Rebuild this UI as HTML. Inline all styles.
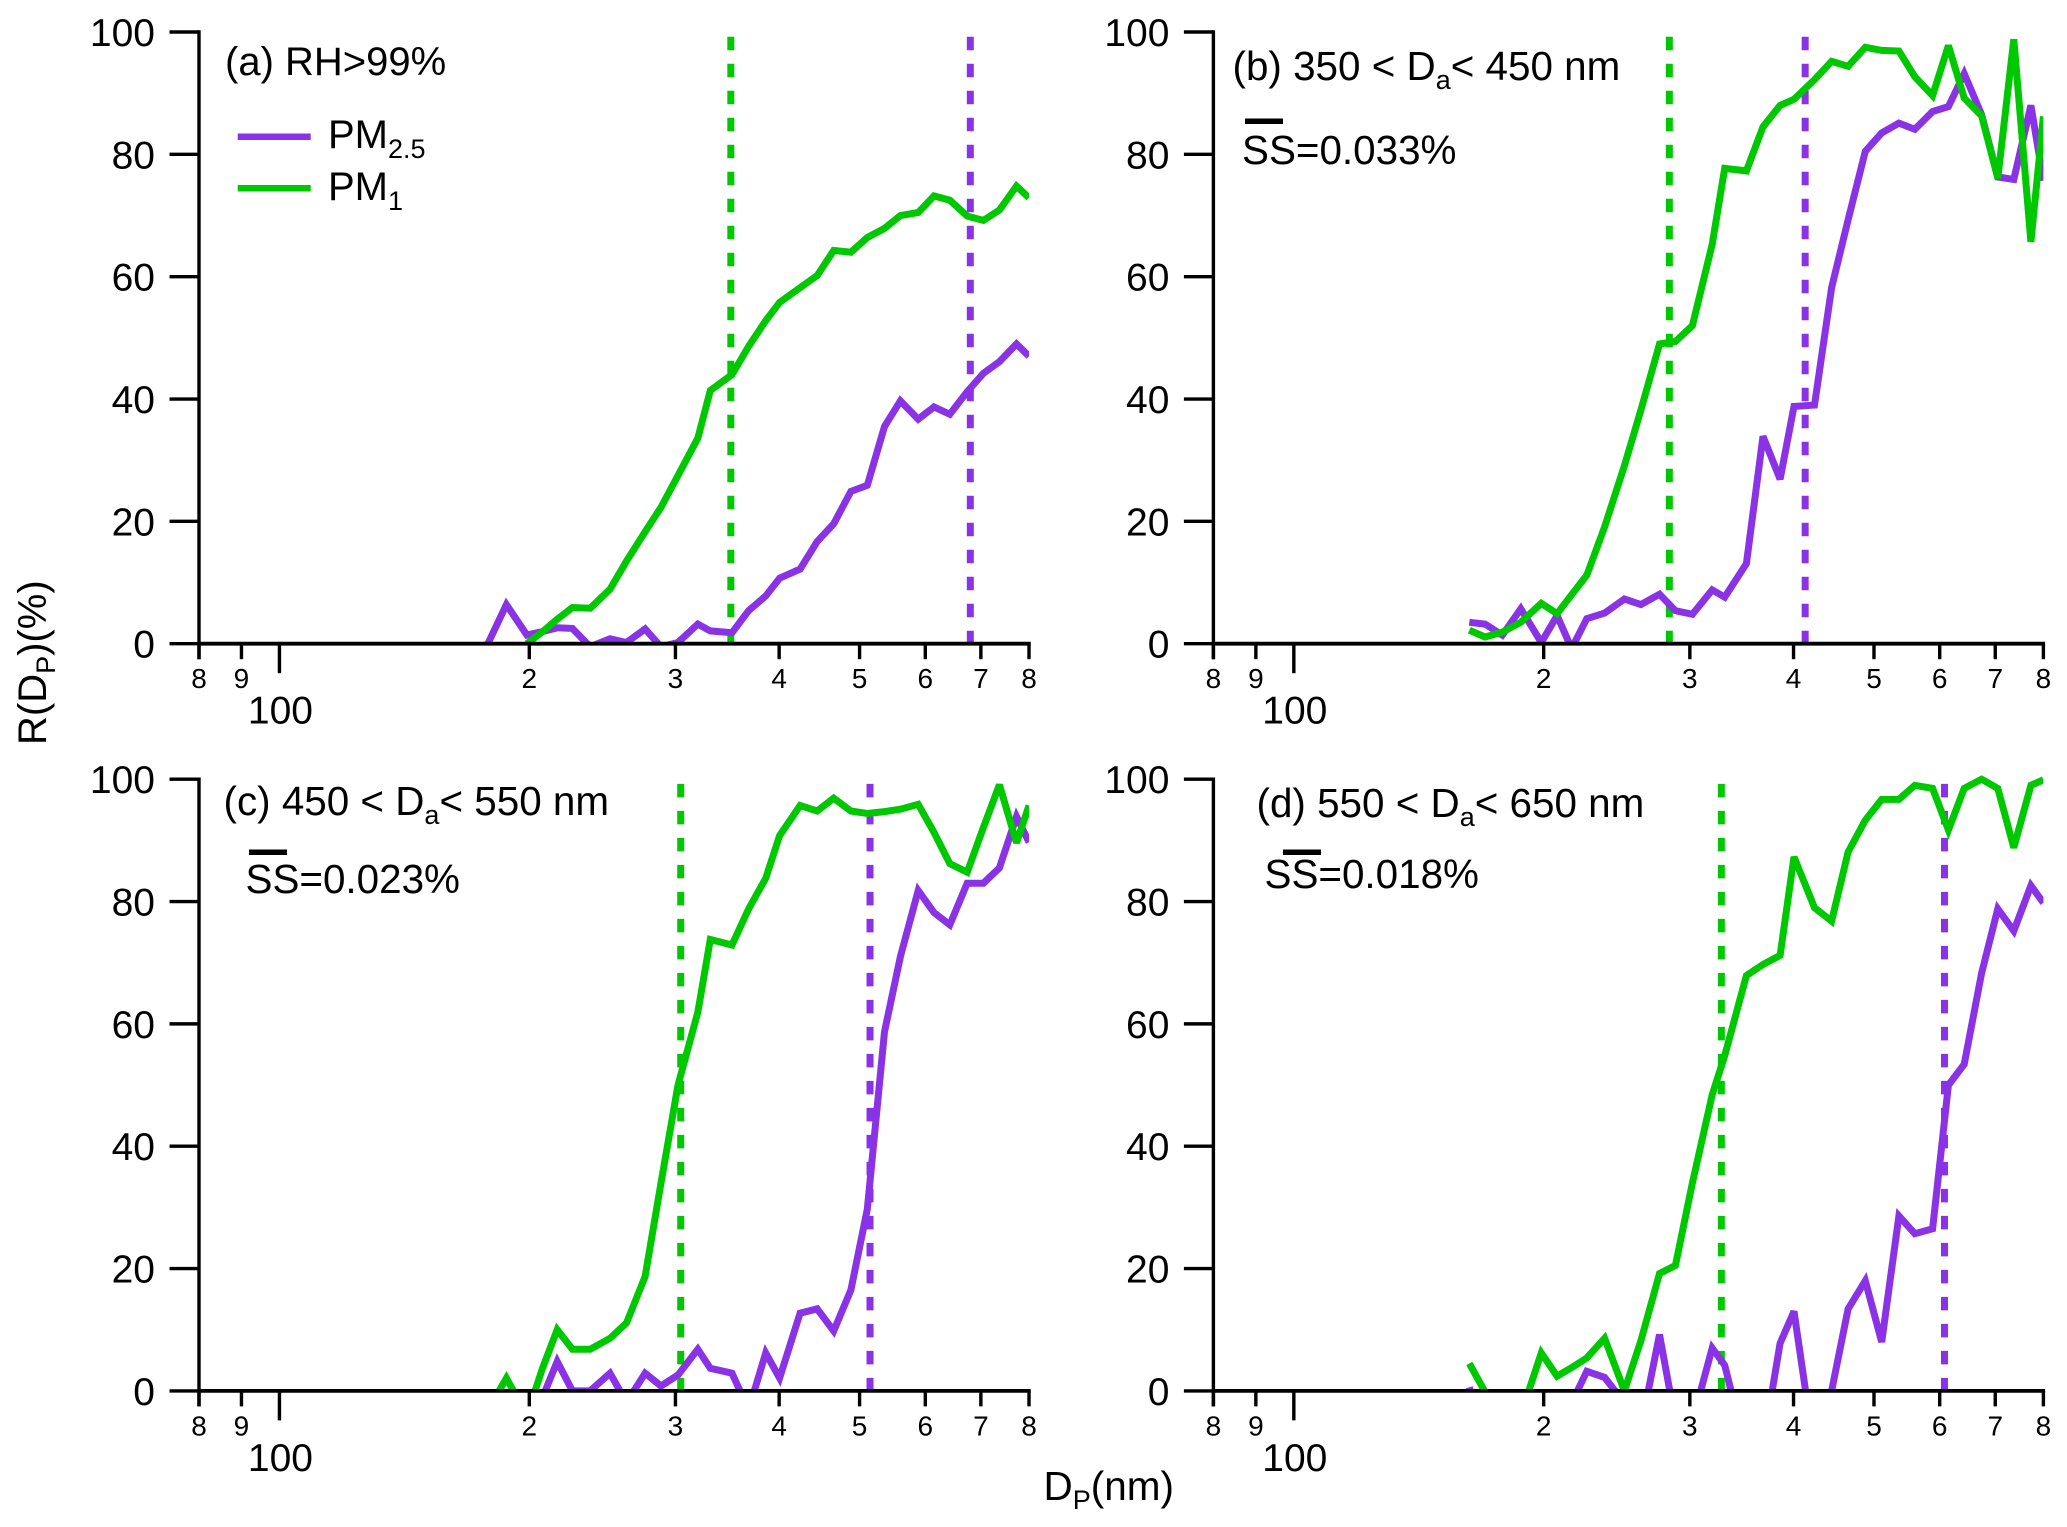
<!DOCTYPE html>
<html lang="en">
<head>
<meta charset="utf-8">
<title>R(DP) activation curves</title>
<style>
html,body{margin:0;padding:0;background:#fff;}
svg{display:block;}
text{font-family:"Liberation Sans",Arial,sans-serif;fill:#000;}
</style>
</head>
<body>
<svg id="chart" xmlns="http://www.w3.org/2000/svg" width="2067" height="1527" viewBox="0 0 2067 1527">
  <rect x="0" y="0" width="2067" height="1527" fill="#ffffff"/>
  <g id="plots"></g>

  <text transform="translate(46,745) rotate(-90)" font-size="40">R(D<tspan font-size="27" dy="9">P</tspan><tspan dy="-9">)(%)</tspan></text>
  <text x="1043.5" y="1500" font-size="40.5">D<tspan font-size="27" dy="9">P</tspan><tspan dy="-9">(nm)</tspan></text>

  <text x="225" y="75" font-size="40">(a) RH&gt;99%</text>
  <g>
    <line x1="237.7" x2="310.7" y1="136.7" y2="136.7" stroke="#8a32e6" stroke-width="6.5"/>
    <text x="328" y="148" font-size="40">PM<tspan font-size="27" dy="10">2.5</tspan></text>
    <line x1="237.7" x2="310.7" y1="188.3" y2="188.3" stroke="#00c800" stroke-width="6.5"/>
    <text x="328" y="200" font-size="40">PM<tspan font-size="27" dy="10">1</tspan></text>
  </g>

  <text x="1232.5" y="80" font-size="40.4">(b) 350 &lt; D<tspan font-size="27" dy="9">a</tspan><tspan dy="-9">&lt; 450 nm</tspan></text>
  <rect x="1245" y="118.5" width="38" height="5.5" fill="#000"/>
  <text x="1242" y="164" font-size="40.4">SS=0.033%</text>

  <text x="223.5" y="815" font-size="40.4">(c) 450 &lt; D<tspan font-size="27" dy="9">a</tspan><tspan dy="-9">&lt; 550 nm</tspan></text>
  <rect x="249" y="849.5" width="38" height="5.5" fill="#000"/>
  <text x="245.5" y="893" font-size="40.4">SS=0.023%</text>

  <text x="1256.5" y="817" font-size="40.4">(d) 550 &lt; D<tspan font-size="27" dy="9">a</tspan><tspan dy="-9">&lt; 650 nm</tspan></text>
  <rect x="1283" y="849.5" width="38" height="5.5" fill="#000"/>
  <text x="1264.5" y="888" font-size="40.4">SS=0.018%</text>
</svg>

<script>
// Shared diameter bins (nm)
const diameters = [162.7,170.0,178.3,187.7,198.7,207.6,216.1,225.4,236.8,250.2,261.9,275.8,288.2,302.1,319.2,330.5,351.0,367.5,385.4,400.5,424.0,444.5,465.4,488.1,510.8,535.8,559.9,588.3,614.7,642.2,673.9,705.0,737.0,772.7,800];

// R(Dp) values (%); null = no data
const panelAPm25 = [null,null,0,6.4,1.4,2.0,2.6,2.5,-0.5,0.8,0.2,2.4,-0.5,0.2,3.2,2.1,1.8,5.4,7.8,10.7,12.2,16.7,19.6,24.9,25.9,35.5,39.7,36.7,38.7,37.5,41.2,44.2,46.1,49,47];
const panelAPm1 = [null,null,null,null,0,2.0,4,5.9,5.8,8.9,13.5,18.3,22.3,27.5,33.6,41.4,44,48.6,52.8,55.8,58.2,60.2,64.3,64,66.4,67.9,70,70.5,73.2,72.5,69.9,69.2,70.9,74.8,72.9];
const panelBPm25 = [3.5,3.2,1.4,5.7,0.2,4.6,-0.8,4.1,5,7.3,6.4,8.1,5.4,4.8,8.8,7.6,13.1,33.9,26.9,38.8,39,58.2,69.3,80.5,83.5,85.1,84.1,87,87.8,93.2,86.5,76.3,75.9,88,75.7];
const panelBPm1 = [2.2,1.1,1.9,3.5,6.6,4.9,8,11.2,19.1,29.1,38.2,49,49.4,52,65.3,77.7,77.3,84.5,88,89,92.2,95.2,94.4,97.5,97,96.9,92.7,89.6,97.8,89.2,86.3,76.1,98.8,65.7,86.2];
const panelCPm25 = [null,null,null,null,null,-1,4.8,0,0,2.9,-1.9,2.9,0.8,2.6,6.8,3.7,2.9,-3.1,6.2,2.1,12.7,13.4,9.8,16.5,29.7,58.7,71,81.8,78.2,76.2,83,83,85.5,93.9,89.7];
const panelCPm1 = [null,null,-3.2,2.1,-4,3.8,10,6.8,6.8,8.6,11.1,18.7,34,50,61.9,73.8,72.9,78.8,83.8,90.8,95.7,94.8,96.9,94.8,94.4,94.7,95.1,95.9,91.3,86.2,84.8,92.1,99.1,89.6,95.7];
const panelDPm25 = [0.6,-8,-5,-5,-5,-5,-2,3.2,2.2,-2,-6,9.2,-5,-5,7,4.2,-10,-9,7.8,13,-10,0,13.4,18,8,28.6,25.7,26.5,50,53.4,68.3,78.8,75.2,82.6,79.8];
const panelDPm1 = [4.5,-0.2,-3,-3.9,6.2,2.4,3.8,5.4,8.6,0,8.2,19.2,20.5,34,48.4,54.8,67.9,69.7,71.2,87.3,79,76.8,88.1,93.3,96.7,96.7,99,98.5,91.7,98.5,100,98.5,88.8,99,99.9];

// Cut-off diameters marked with dashed lines (nm)
const cutPm1 = [349.8,283.4,304.4,327.4];
const cutPm25 = [679.8,413.1,514.7,608];

// Axis ticks
const yTicks = [0,20,40,60,80,100];
const xTicks = [80,90,100,200,300,400,500,600,700,800];
const xTickLabels = ["8","9","100","2","3","4","5","6","7","8"];

const panelIds = ["a","b","c","d"];
const panelPm25 = [panelAPm25,panelBPm25,panelCPm25,panelDPm25];
const panelPm1 = [panelAPm1,panelBPm1,panelCPm1,panelDPm1];

const PURPLE = "#8a32e6";
const GREEN = "#00c800";
const NS = "http://www.w3.org/2000/svg";
const plotWidth = 830;
const plotHeight = 611.7;
const frameLefts = [199,1213.4,199,1213.4];
const frameTops = [32,32,779.2,779.2];

function el(tag, attrs, parent) {
  const node = document.createElementNS(NS, tag);
  for (const k in attrs) node.setAttribute(k, attrs[k]);
  parent.appendChild(node);
  return node;
}
function xScale(d, left) { return left + plotWidth * Math.log10(d / 80); }
function yScale(v, top) { return top + plotHeight * (1 - v / 100); }

const root = document.getElementById("plots");
const defs = el("defs", {}, root);

function drawSeries(group, values, color, left, top, clipId, name) {
  let pts = [];
  values.forEach(function (v, i) {
    if (v === null) return;
    pts.push(xScale(diameters[i], left).toFixed(1) + "," + yScale(v, top).toFixed(1));
  });
  const line = el("polyline", {points: pts.join(" "), fill: "none", stroke: color, "stroke-width": 7, "stroke-linejoin": "miter", "stroke-miterlimit": 3, "clip-path": "url(#" + clipId + ")"}, group);
  
  
}

function drawCut(group, d, color, left, top, name) {
  const x = xScale(d, left);
  const line = el("line", {x1: x, x2: x, y1: top + 4.7, y2: top + plotHeight, stroke: color, "stroke-width": 7, "stroke-dasharray": "13.5 13.5"}, group);
  
  
}

panelIds.forEach(function (id, p) {
  const left = frameLefts[p], top = frameTops[p], bottom = top + plotHeight;
  const g = el("g", {}, root);
  
  

  const clipId = "clip-" + id;
  const cp = el("clipPath", {id: clipId}, defs);
  el("rect", {x: left, y: top - 12, width: plotWidth, height: plotHeight + 12}, cp);

  drawCut(g, cutPm1[p], GREEN, left, top, 'cutoff-line-pm1-' + id);
  drawCut(g, cutPm25[p], PURPLE, left, top, 'cutoff-line-pm25-' + id);
  drawSeries(g, panelPm25[p], PURPLE, left, top, clipId, 'series-pm25-' + id);
  drawSeries(g, panelPm1[p], GREEN, left, top, clipId, 'series-pm1-' + id);

  // y axis
  const yAxis = el("line", {x1: left, x2: left, y1: top - 1.7, y2: bottom + 15.5, stroke: "#000", "stroke-width": 3.4}, g);
  
  
  yTicks.forEach(function (v) {
    const y = yScale(v, top);
    const tick = el("line", {x1: left - 29.5, x2: left, y1: y, y2: y, stroke: "#000", "stroke-width": 3.4}, g);
    
    
    const label = el("text", {x: left - 44, y: y + 14, "text-anchor": "end", "font-size": 39}, g);
    label.textContent = String(v);
    
    
  });

  // x axis
  const xAxis = el("line", {x1: left - 1.7, x2: left + plotWidth + 1.7, y1: bottom, y2: bottom, stroke: "#000", "stroke-width": 3.8}, g);
  
  
  xTicks.forEach(function (d, i) {
    const x = xScale(d, left);
    const isDecade = d === 100;
    const tick = el("line", {x1: x, x2: x, y1: bottom, y2: bottom + (isDecade ? 29.5 : 15.5), stroke: "#000", "stroke-width": 3.4}, g);
    
    
    const label = el("text", {x: isDecade ? x + 1 : x, y: bottom + (isDecade ? 80 : 44.5), "text-anchor": "middle", "font-size": isDecade ? 39 : 28}, g);
    label.textContent = xTickLabels[i];
    
    
  });
});
</script>
</body>
</html>
